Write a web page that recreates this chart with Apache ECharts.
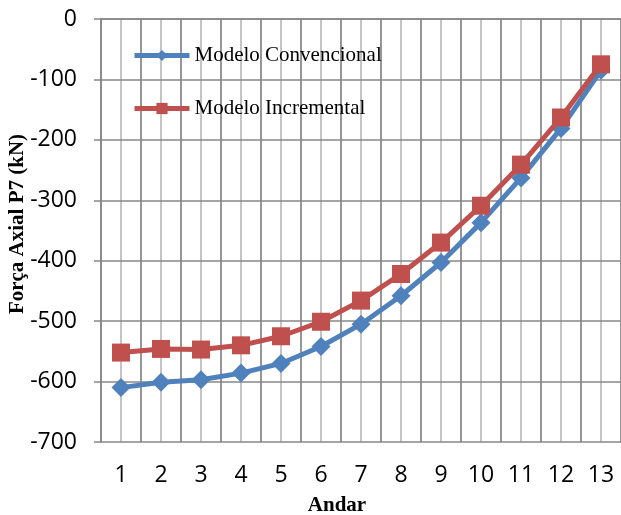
<!DOCTYPE html>
<html>
<head>
<meta charset="utf-8">
<script src="https://cdn.jsdelivr.net/npm/echarts@6/dist/echarts.min.js"></script>
<style>
  html, body { margin: 0; padding: 0; background: #fff; }
  #chart { width: 621px; height: 515px; }
</style>
</head>
<body>
<div id="chart"></div>
<script>
// Axial force in column P7 per storey, two modelling approaches
const andares = ['1', '2', '3', '4', '5', '6', '7', '8', '9', '10', '11', '12', '13'];
const convencional = [-610, -601, -597, -586, -570, -542, -505, -458, -403, -337, -263, -181, -85];
const incremental = [-552, -546, -547, -540, -525, -501, -466, -422, -370, -309, -241, -163, -75];
const yTicks = [0, -100, -200, -300, -400, -500, -600, -700];

const BLUE = '#4F81BD';
const RED = '#C0504D';
const GRID_DARK = '#878787';
const GRID_LIGHT = '#c4c4c4';
const TICK_FONT = 'Open Sans';
const SERIF = '"Liberation Serif", "Times New Roman", serif';

const chart = echarts.init(document.getElementById('chart'), null, { renderer: 'canvas' });

const legendText = { fontFamily: SERIF, fontSize: 21, color: '#000' };

chart.setOption({
  animation: false,
  backgroundColor: '#fff',
  grid: { left: 101, top: 19, width: 521, height: 423, containLabel: false },
  legend: [
    {
      data: ['Modelo Convencional'], left: 132, top: 45, orient: 'vertical', padding: 0,
      itemWidth: 55, itemHeight: 14, itemGap: 4, textStyle: legendText,
      lineStyle: { width: 5 }
    },
    {
      data: ['Modelo Incremental'], left: 132, top: 98, orient: 'vertical', padding: 0,
      itemWidth: 55, itemHeight: 14, itemGap: 4, textStyle: legendText,
      lineStyle: { width: 5 }
    }
  ],
  xAxis: [
    {
      type: 'category',
      data: andares,
      boundaryGap: true,
      z: 2,
      axisLine: { show: true, lineStyle: { color: GRID_DARK, width: 1.5 } },
      axisTick: { show: false },
      axisLabel: { fontFamily: TICK_FONT, fontSize: 23, color: '#000', margin: 22, interval: 0 },
      splitLine: { show: true, interval: 0, lineStyle: { color: GRID_DARK, width: 1.5 } }
    },
    {
      // helper axis: light grid lines at every half storey (centres stay visible)
      type: 'value',
      min: 0, max: 26, interval: 1,
      z: 1,
      position: 'bottom',
      axisLine: { show: false },
      axisTick: { show: false },
      axisLabel: { show: false },
      splitLine: { show: true, lineStyle: { color: GRID_LIGHT, width: 2 } }
    }
  ],
  yAxis: {
    type: 'value',
    min: -700, max: 0, interval: 100,
    z: 3,
    axisLine: { show: true, lineStyle: { color: GRID_DARK, width: 1.5 } },
    axisTick: { show: true, inside: false, length: 7, lineStyle: { color: GRID_DARK, width: 1.5 } },
    axisLabel: {
      fontFamily: TICK_FONT, fontSize: 23, color: '#000', margin: 24,
      customValues: yTicks
    },
    splitLine: { show: true, lineStyle: { color: GRID_DARK, width: 1.5 } }
  },
  series: [
    {
      name: 'Modelo Convencional',
      type: 'line',
      data: convencional,
      xAxisIndex: 0,
      symbol: 'diamond',
      symbolSize: 19,
      showAllSymbol: true,
      lineStyle: { color: BLUE, width: 5 },
      itemStyle: { color: BLUE },
      z: 5
    },
    {
      name: 'Modelo Incremental',
      type: 'line',
      data: incremental,
      xAxisIndex: 0,
      symbol: 'rect',
      symbolSize: 18,
      showAllSymbol: true,
      lineStyle: { color: RED, width: 5 },
      itemStyle: { color: RED },
      z: 6
    }
  ],
  graphic: [
    {
      type: 'text',
      x: 18, y: 224,
      rotation: Math.PI / 2,
      style: {
        text: 'Força Axial P7 (kN)',
        font: 'bold 21px ' + SERIF,
        fill: '#000',
        align: 'center',
        verticalAlign: 'middle'
      }
    },
    {
      type: 'text',
      x: 337, y: 506,
      style: {
        text: 'Andar',
        font: 'bold 21px ' + SERIF,
        fill: '#000',
        align: 'center',
        verticalAlign: 'middle'
      }
    }
  ]
});
</script>
</body>
</html>
